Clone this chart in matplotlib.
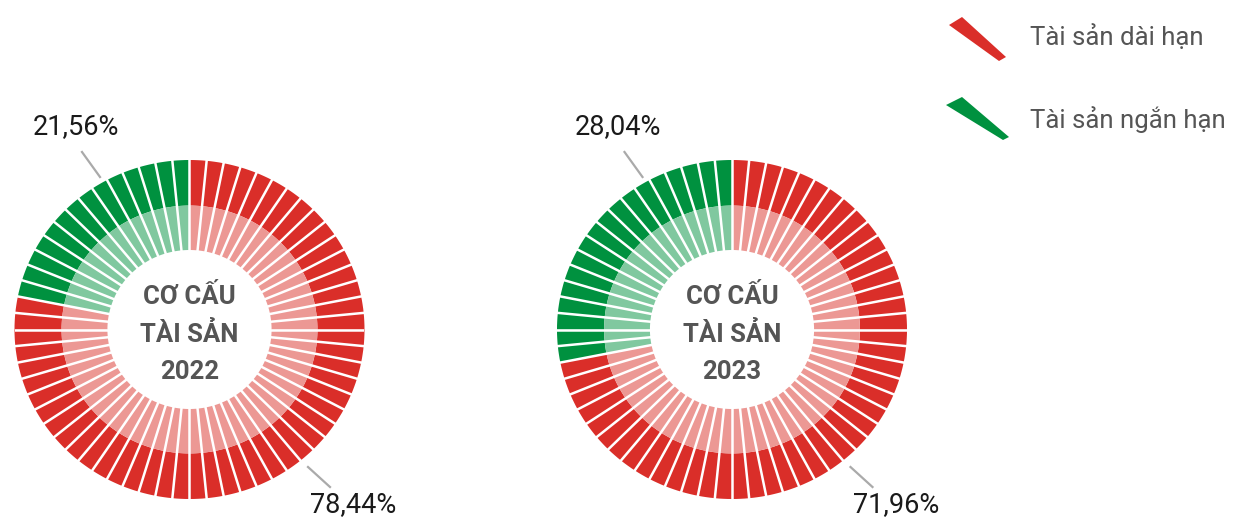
"""Two segmented donuts: asset structure 2022 vs 2023."""
import numpy as np
import matplotlib
matplotlib.use("Agg")
import matplotlib.pyplot as plt
from matplotlib.patches import Polygon

plt.rcParams["font.family"] = ["Roboto", "DejaVu Sans"]

years = ["2022", "2023"]
short_term = [21.56, 28.04]      # Tài sản ngắn hạn (%)
long_term = [78.44, 71.96]       # Tài sản dài hạn (%)
legend_labels = ["Tài sản dài hạn", "Tài sản ngắn hạn"]
N_SEG = 64

RED, RED_L = "#DA2E29", "#EC9894"
GREEN, GREEN_L = "#00913F", "#80C89F"
TXT = "#555555"

W, H = 1237, 518
fig = plt.figure(figsize=(W / 100, H / 100), dpi=100)

# overlay axes in pixel coordinates for labels / legend
ov = fig.add_axes([0, 0, 1, 1])
ov.set_xlim(0, W); ov.set_ylim(H, 0); ov.axis("off")

centers_x = [189.5, 732]
cy, rx, ry = 329.5, 175, 169.5
r_mid, r_in = 0.731, 0.469

for i, yr in enumerate(years):
    cx = centers_x[i]
    ax = fig.add_axes([(cx - rx) / W, (H - cy - ry) / H, 2 * rx / W, 2 * ry / H])
    ax.set_xlim(-1, 1); ax.set_ylim(-1, 1); ax.set_aspect("auto"); ax.axis("off")
    n_green = int(round(short_term[i] / 100 * N_SEG))
    n_red = N_SEG - n_green
    vals = [1] * N_SEG
    ax.pie(vals, colors=[RED] * n_red + [GREEN] * n_green, radius=1,
           startangle=90, counterclock=False,
           wedgeprops=dict(width=1 - r_mid, linewidth=0))
    ax.pie(vals, colors=[RED_L] * n_red + [GREEN_L] * n_green, radius=r_mid,
           startangle=90, counterclock=False,
           wedgeprops=dict(width=r_mid - r_in, linewidth=0))
    ax.set_xlim(-1, 1); ax.set_ylim(-1, 1); ax.set_aspect("auto")
    # white separators
    for k in range(N_SEG):
        a = np.deg2rad(90 - k * 360 / N_SEG)
        ax.plot([r_in * 0.98 * np.cos(a), 1.02 * np.cos(a)],
                [r_in * 0.98 * np.sin(a), 1.02 * np.sin(a)],
                color="white", lw=1.8, solid_capstyle="butt")
    # centre title
    for txt, yy in zip(["CƠ CẤU", "TÀI SẢN", yr], [0.150, -0.071, -0.292]):
        ax.text(0, yy, txt, ha="center", va="baseline", fontsize=18.5,
                fontweight="bold", color=TXT)

    # leader lines and percentage labels
    ov.plot([cx - 107.5, cx - 89.5], [152, 177], color="#AAAAAA", lw=1.6)
    ov.plot([cx + 118.5, cx + 140.5], [467, 487], color="#AAAAAA", lw=1.6)
    ov.text(cx - 114, 134, f"{short_term[i]:.2f}%".replace(".", ","),
            ha="center", va="baseline", fontsize=19.5, color="#1a1a1a")
    ov.text(cx + 164, 512, f"{long_term[i]:.2f}%".replace(".", ","),
            ha="center", va="baseline", fontsize=19.5, color="#1a1a1a")

# legend with wedge-like markers
ov.add_patch(Polygon([(949, 25), (962, 17), (1006, 57), (999, 61)],
                     closed=True, facecolor=RED, edgecolor="none"))
ov.add_patch(Polygon([(946, 105), (962, 97), (1009, 137), (1003, 140)],
                     closed=True, facecolor=GREEN, edgecolor="none"))
ov.text(1030, 45, legend_labels[0], ha="left", va="baseline", fontsize=18.5, color=TXT)
ov.text(1030, 128, legend_labels[1], ha="left", va="baseline", fontsize=18.5, color=TXT)

fig.savefig("out.png", dpi=100)
